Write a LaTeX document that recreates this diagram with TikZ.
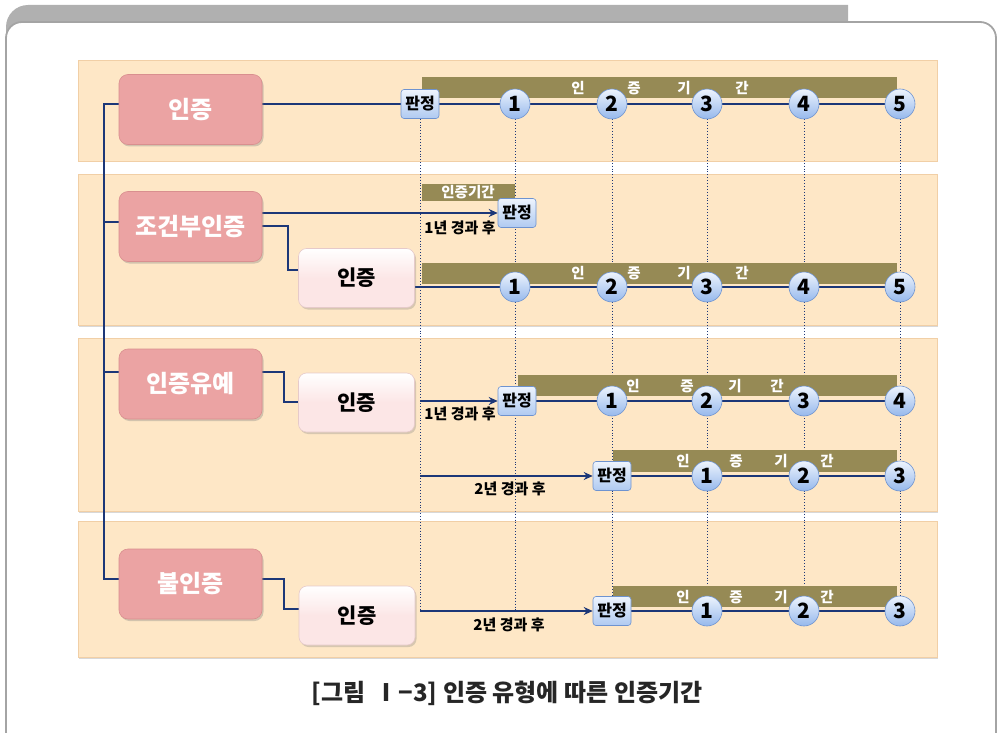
\documentclass[tikz,border=0pt]{standalone}
\usepackage{fontspec}
\setmainfont{Noto Sans CJK KR}
\usetikzlibrary{shadows,arrows.meta}
\definecolor{bandc}{HTML}{FEE7C6}
\definecolor{bandedge}{HTML}{F1CFA6}
\definecolor{pinkd}{HTML}{EBA3A3}
\definecolor{pinkdedge}{HTML}{D98F8F}
\definecolor{pinkl}{HTML}{FCE6E6}
\definecolor{pinkledge}{HTML}{E6CACA}
\definecolor{olive}{HTML}{968A55}
\definecolor{navy}{HTML}{1C3778}
\definecolor{bluetop}{HTML}{EEF4FD}
\definecolor{bluebot}{HTML}{95B8EC}
\definecolor{blueedge}{HTML}{6E93D0}
\definecolor{framegray}{HTML}{B0B0B0}
\definecolor{frameline}{HTML}{A4A4A4}
\pgfdeclarelayer{bands}
\pgfdeclarelayer{lines}
\pgfsetlayers{bands,lines,main}
\begin{document}
\begin{tikzpicture}[x=1pt,y=-1pt,
  band/.style={fill=bandc, draw=bandedge, line width=0.6pt, drop shadow={shadow xshift=1pt, shadow yshift=-1.5pt, opacity=0.3}},
  mainbox/.style={rounded corners=9pt, fill=pinkd, draw=pinkdedge, line width=0.6pt, text=white, font=\bfseries\fontsize{24}{25}\selectfont, minimum width=143pt, minimum height=70pt, drop shadow={shadow xshift=1.5pt, shadow yshift=-2pt, opacity=0.35}},
  subbox/.style={rounded corners=8pt, top color=white, bottom color=pinkl, middle color=pinkl, draw=pinkledge, line width=0.6pt, font=\bfseries\fontsize{21}{23}\selectfont, minimum width=116pt, minimum height=59pt, drop shadow={shadow xshift=1.5pt, shadow yshift=-2pt, opacity=0.3}},
  judge/.style={rounded corners=3pt, top color=bluetop, bottom color=bluebot!75!white, draw=blueedge, line width=0.6pt, font=\bfseries\fontsize{16}{17}\selectfont, minimum width=38pt, minimum height=29pt, inner sep=1pt},
  num/.style={circle, top color=bluetop, bottom color=bluebot, draw=blueedge, line width=0.6pt, minimum size=30pt, inner sep=0pt, font=\bfseries\fontsize{21}{22}\selectfont},
  bartext/.style={text=white, font=\bfseries\fontsize{14.5}{15}\selectfont, inner sep=0pt},
  tl/.style={navy, line width=1.5pt},
  arr/.style={tl, -{Stealth[length=9pt,width=8pt]}},
  dots/.style={navy, dotted, line width=0.9pt},
  note/.style={font=\bfseries\fontsize{15}{16}\selectfont, inner sep=0pt},
]
\useasboundingbox (0,0) rectangle (999,733);
\clip (0,0) rectangle (999,733);
\begin{pgfonlayer}{bands}
\fill[framegray] (6,50) [rounded corners=22pt] -- (6,5) [sharp corners] -- (848,5) -- (848,50) -- cycle;
\filldraw[fill=white, draw=frameline, line width=1.8pt, rounded corners=16pt] (6,22) rectangle (996,748);
\path[band] (78,60) rectangle (937,161);
\path[band] (78,174) rectangle (937,325);
\path[band] (78,338) rectangle (937,511);
\path[band] (78,521) rectangle (937,657);
\end{pgfonlayer}

% main boxes
\node[mainbox] (m1) at (190.5,109.5) {인증};
\node[mainbox] (m2) at (190.5,226.5) {조건부인증};
\node[mainbox] (m3) at (190.5,384) {인증유예};
\node[mainbox] (m4) at (190.5,584) {불인증};
\node[subbox] (n2) at (356.5,278) {인증};
\node[subbox] (n3) at (356.5,402.5) {인증};
\node[subbox] (n4) at (357,615.5) {인증};

% row 1
\node[judge] (j1) at (420,104) {판정};
\foreach \i/\x in {1/515,2/612,3/707,4/804,5/900} \node[num] (a\i) at (\x,104) {\i};
% row 2
\node[judge] (j2) at (517,213) {판정};
\foreach \i/\x in {1/515,2/612,3/707,4/804,5/900} \node[num] (p\i) at (\x,287) {\i};
% row 3
\node[judge] (j3) at (517,401) {판정};
\foreach \i/\x in {1/612,2/707,3/804,4/900} \node[num] (q\i) at (\x,401) {\i};
\node[judge] (k3) at (612,476) {판정};
\foreach \i/\x in {1/707,2/804,3/900} \node[num] (s\i) at (\x,476) {\i};
% row 4
\node[judge] (j4) at (612,611) {판정};
\foreach \i/\x in {1/707,2/804,3/900} \node[num] (t\i) at (\x,611) {\i};

\coordinate (o3a) at (420,401);
\coordinate (o3b) at (420,476);
\coordinate (o4) at (420,611);

% bar texts
\foreach \y in {88,273} {
  \node[bartext] at (578,\y) {인};
  \node[bartext] at (634,\y) {증};
  \node[bartext] at (684,\y) {기};
  \node[bartext] at (742,\y) {간};
}
\node[bartext] at (468,192.5) {인증기간};
\node[bartext] at (633,386) {인};
\node[bartext] at (687,386) {증};
\node[bartext] at (735,386) {기};
\node[bartext] at (777,386) {간};
\foreach \y in {461,597} {
  \node[bartext] at (683,\y) {인};
  \node[bartext] at (736,\y) {증};
  \node[bartext] at (781,\y) {기};
  \node[bartext] at (827,\y) {간};
}

% notes
\node[note] at (460,228) {1년 경과 후};
\node[note] at (460,414) {1년 경과 후};
\node[note] at (510,489) {2년 경과 후};
\node[note] at (509,625) {2년 경과 후};

% caption
\node[font=\bfseries\fontsize{24}{26}\selectfont, text=black!85] (cap) at (507,693) {[그림 \,Ⅰ−3] 인증 유형에 따른 인증기간};

\begin{pgfonlayer}{lines}
% dotted guides
\draw[dots] (j1) -- (o4);
\draw[dots] (a1) -- (a1 |- o4);
\draw[dots] (a2) -- (j4);
\draw[dots] (a3) -- (t1);
\draw[dots] (a4) -- (t2);
\draw[dots] (a5) -- (t3);
% bars
\fill[olive] (422,77) rectangle (897,98);
\fill[olive] (422,184) rectangle (515,201);
\fill[olive] (422,263) rectangle (897,284);
\fill[olive] (518,375) rectangle (897,396);
\fill[olive] (613,450) rectangle (897,472);
\fill[olive] (613,586) rectangle (897,607);
% trunk and branches
\draw[tl] (m1.west |- j1) -- (104,104) -- (104,579) -- (m4.west |- 0,579);
\draw[tl] (104,222) -- (m2.west |- 0,222);
\draw[tl] (104,372) -- (m3.west |- 0,372);
% row 1
\draw[tl] (m1.east |- j1) -- (j1) -- (a5);
% row 2
\draw[arr] (m2.east |- j2) -- (j2.west);
\draw[tl] (m2.east |- 0,226) -- (288,226) |- (n2.west |- 0,270);
\draw[tl] (n2.east |- p1) -- (p5);
% row 3
\draw[tl] (m3.east |- 0,372) -- (284,372) |- (n3.west |- 0,402);
\draw[arr] (o3a) -- (j3.west);
\draw[tl] (j3) -- (q4);
\draw[arr] (o3b) -- (k3.west);
\draw[tl] (k3) -- (s3);
% row 4
\draw[tl] (m4.east |- 0,579) -- (284,579) |- (n4.west |- 0,609);
\draw[arr] (o4) -- (j4.west);
\draw[tl] (j4) -- (t3);
\end{pgfonlayer}
\end{tikzpicture}
\end{document}
